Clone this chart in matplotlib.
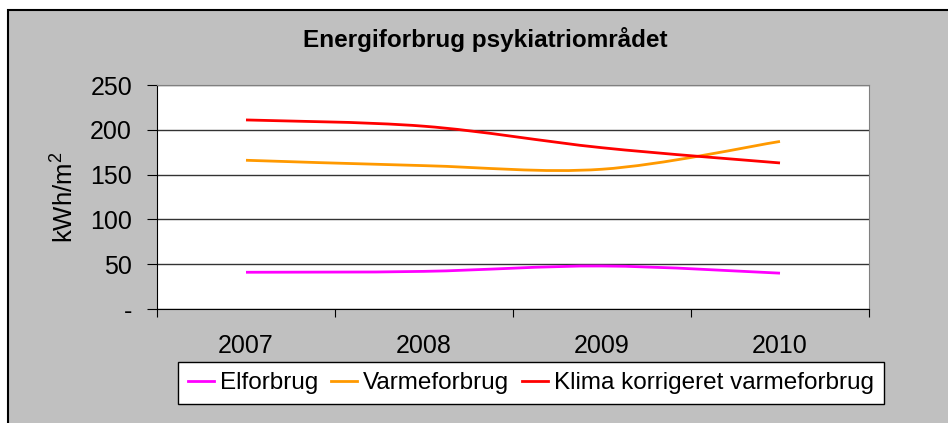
import matplotlib.pyplot as plt
from matplotlib.path import Path
from matplotlib.patches import PathPatch, Rectangle
from matplotlib.lines import Line2D

plt.rcParams['font.family'] = ['Liberation Sans', 'DejaVu Sans']
plt.rcParams['mathtext.fontset'] = 'custom'
plt.rcParams['mathtext.rm'] = 'Liberation Sans'
plt.rcParams['mathtext.it'] = 'Liberation Sans'

# data
years = ['2007', '2008', '2009', '2010']
elforbrug = [41, 42, 48, 40]
varmeforbrug = [166, 160, 156, 187]
klima = [211, 204, 180, 163]
y_ticks = [0, 50, 100, 150, 200, 250]
y_ticklabels = ['-', '50', '100', '150', '200', '250']

series = [
    ('Elforbrug', elforbrug, '#FF00FF'),
    ('Varmeforbrug', varmeforbrug, '#FF9900'),
    ('Klima korrigeret varmeforbrug', klima, '#FF0000'),
]


def smooth_path(xs, ys):
    # Excel-like smoothed line: cubic bezier through the data points
    n = len(xs)
    verts = [(xs[0], ys[0])]
    codes = [Path.MOVETO]
    for i in range(n - 1):
        x0, y0 = xs[max(i - 1, 0)], ys[max(i - 1, 0)]
        x1, y1 = xs[i], ys[i]
        x2, y2 = xs[i + 1], ys[i + 1]
        x3, y3 = xs[min(i + 2, n - 1)], ys[min(i + 2, n - 1)]
        c1 = (x1 + (x2 - x0) / 6, y1 + (y2 - y0) / 6)
        c2 = (x2 - (x3 - x1) / 6, y2 - (y3 - y1) / 6)
        verts += [c1, c2, (x2, y2)]
        codes += [Path.CURVE4] * 3
    return Path(verts, codes)


fig = plt.figure(figsize=(9.48, 4.23), dpi=100, facecolor='white')

# grey chart area with black frame
fig.patches.append(Rectangle((8 / 948, -0.1), 1.0, (423 - 10) / 423 + 0.1,
                             transform=fig.transFigure, facecolor='#C0C0C0',
                             edgecolor='black', linewidth=1.5, zorder=-10))

ax = fig.add_axes([157 / 948, 1 - 309 / 423, 712 / 948, 224 / 423])
ax.set_facecolor('white')

x = list(range(len(years)))
for name, vals, col in series:
    ax.add_patch(PathPatch(smooth_path(x, vals), facecolor='none',
                           edgecolor=col, linewidth=2.0, capstyle='butt', zorder=3))

ax.set_xlim(-0.5, len(years) - 0.5)
ax.set_ylim(0, 250)
ax.set_yticks(y_ticks)
ax.set_yticklabels(y_ticklabels, fontsize=18)
ax.yaxis.grid(True, color='#333333', linewidth=1.0)
ax.set_axisbelow(True)

# category labels centred, ticks between categories
ax.set_xticks([i - 0.5 for i in range(len(years) + 1)])
ax.set_xticklabels([])
ax.set_xticks(x, minor=True)
ax.set_xticklabels(years, minor=True, fontsize=18)
ax.tick_params(axis='x', which='major', direction='out', length=6, color='black')
ax.tick_params(axis='x', which='minor', length=0, pad=18)
ax.tick_params(axis='y', direction='out', length=7, pad=11, color='black')

for s in ['top', 'right']:
    ax.spines[s].set_color('#808080')
for s in ['left', 'bottom']:
    ax.spines[s].set_color('black')

ax.set_ylabel('kWh/m$^2$', fontsize=18.5, labelpad=8)

fig.text(485 / 948, 1 - 40 / 423, 'Energiforbrug psykiatriområdet',
         fontsize=17.5, fontweight='bold', ha='center', va='center')

handles = [Line2D([], [], color=c, linewidth=2.0) for _, _, c in series]
leg = fig.legend(handles, [n for n, _, _ in series], loc='center',
                 bbox_to_anchor=(531 / 948, 1 - 383 / 423), ncol=3,
                 fontsize=17.5, frameon=True, fancybox=False, shadow=False,
                 handlelength=1.05, handletextpad=0.25, columnspacing=0.55,
                 borderpad=0.4, borderaxespad=0)
leg.get_frame().set_edgecolor('black')
leg.get_frame().set_linewidth(1.0)
leg.get_frame().set_facecolor('white')
leg.get_frame().set_alpha(1)

fig.savefig('out.png', dpi=100, facecolor=fig.get_facecolor())
